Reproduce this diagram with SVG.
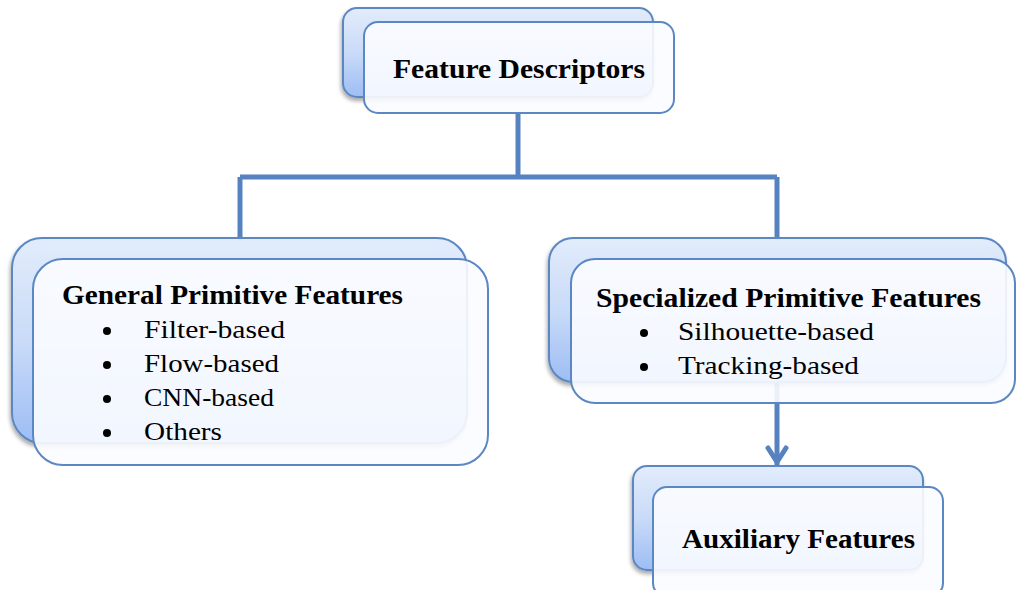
<svg xmlns="http://www.w3.org/2000/svg" width="1016" height="590" viewBox="0 0 1016 590">
  <style>
    .back { stroke: #5b87c2; stroke-width: 2; fill: url(#backFill); filter: url(#shadow); }
    .front { stroke: #5b87c2; stroke-width: 2; fill: #fbfcff; fill-opacity: 0.9; }
    .title { font-family: "Liberation Serif", "DejaVu Serif", serif; font-weight: bold; font-size: 27px; fill: #000; }
    .item { font-family: "Liberation Serif", "DejaVu Serif", serif; font-size: 26px; fill: #000; }
    .conn { stroke: #5683bf; stroke-width: 5; fill: none; }
    .dot { fill: #000; }
  </style>
  <defs>
    <linearGradient id="backFill" x1="0" y1="0" x2="0" y2="1">
      <stop offset="0" stop-color="#e2ecfb"/>
      <stop offset="0.5" stop-color="#c9dbf8"/>
      <stop offset="1" stop-color="#9dbdf4"/>
    </linearGradient>
    <filter id="shadow" x="-10%" y="-10%" width="125%" height="130%">
      <feGaussianBlur in="SourceAlpha" stdDeviation="2"/>
      <feOffset dx="-1" dy="3" result="b"/>
      <feComponentTransfer><feFuncA type="linear" slope="0.35"/></feComponentTransfer>
      <feMerge><feMergeNode/><feMergeNode in="SourceGraphic"/></feMerge>
    </filter>
  </defs>

  <!-- connectors (drawn beneath the boxes) -->
  <g id="connectors">
    <path class="conn" d="M518 113 V177 M240 177 H777 M240 177 V238 M777 177 V238"/>
    <path class="conn" d="M777 382 V465"/>
    <path class="conn" d="M768 448 L777 462 L786 448" stroke-linejoin="round" stroke-linecap="round"/>
  </g>

  <g id="feature-descriptors">
    <rect class="back" x="343" y="8" width="310" height="89" rx="14"/>
    <rect class="front" x="364" y="22" width="310" height="91" rx="14"/>
    <text class="title" x="393" y="78" textLength="252" lengthAdjust="spacingAndGlyphs">Feature Descriptors</text>
  </g>

  <g id="general-primitive">
    <rect class="back" x="12" y="238" width="455" height="205" rx="30"/>
    <rect class="front" x="33" y="259" width="455" height="206" rx="30"/>
    <text class="title" x="62" y="304" textLength="341" lengthAdjust="spacingAndGlyphs">General Primitive Features</text>
    <circle class="dot" cx="107" cy="331" r="4"/>
    <circle class="dot" cx="107" cy="365" r="4"/>
    <circle class="dot" cx="107" cy="399" r="4"/>
    <circle class="dot" cx="107" cy="433" r="4"/>
    <text class="item" x="144" y="338" textLength="141" lengthAdjust="spacingAndGlyphs">Filter-based</text>
    <text class="item" x="144" y="372" textLength="135" lengthAdjust="spacingAndGlyphs">Flow-based</text>
    <text class="item" x="144" y="406" textLength="130" lengthAdjust="spacingAndGlyphs">CNN-based</text>
    <text class="item" x="144" y="440" textLength="78" lengthAdjust="spacingAndGlyphs">Others</text>
  </g>

  <g id="specialized-primitive">
    <rect class="back" x="549" y="238" width="457" height="144" rx="24"/>
    <rect class="front" x="571" y="259" width="444" height="144" rx="24"/>
    <text class="title" x="596" y="307" textLength="385" lengthAdjust="spacingAndGlyphs">Specialized Primitive Features</text>
    <circle class="dot" cx="644" cy="333" r="4"/>
    <circle class="dot" cx="644" cy="367" r="4"/>
    <text class="item" x="678" y="340" textLength="196" lengthAdjust="spacingAndGlyphs">Silhouette-based</text>
    <text class="item" x="678" y="374" textLength="181" lengthAdjust="spacingAndGlyphs">Tracking-based</text>
  </g>

  <g id="auxiliary">
    <rect class="back" x="633" y="466" width="290" height="104" rx="14"/>
    <rect class="front" x="653" y="487" width="290" height="110" rx="14"/>
    <text class="title" x="682" y="548" textLength="233" lengthAdjust="spacingAndGlyphs">Auxiliary Features</text>
  </g>
</svg>
